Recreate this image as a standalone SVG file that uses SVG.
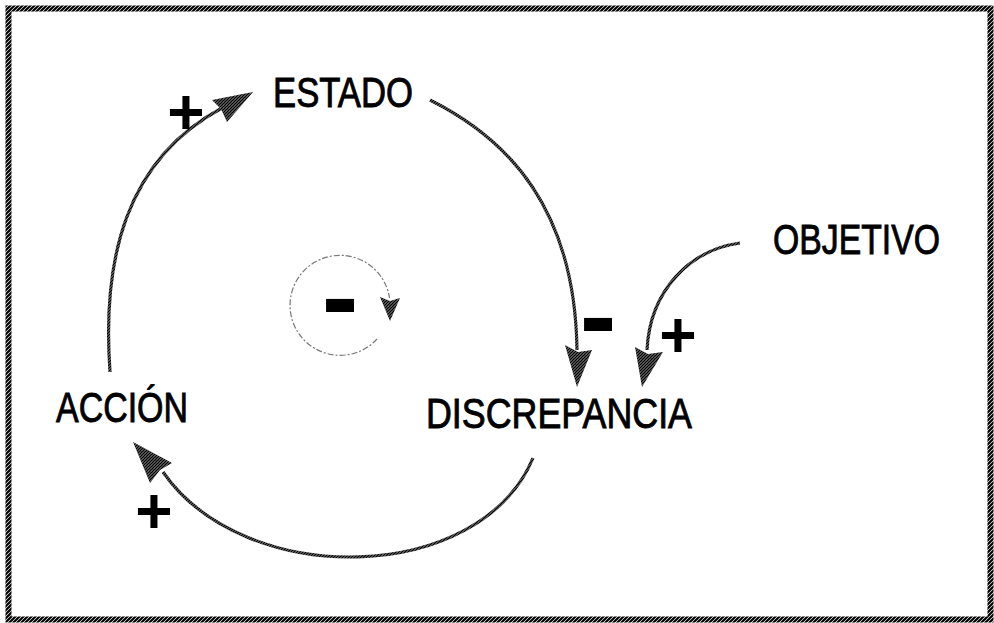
<svg xmlns="http://www.w3.org/2000/svg" width="994" height="623" viewBox="0 0 994 623">
<defs>
<pattern id="hatch" patternUnits="userSpaceOnUse" width="4" height="4">
<rect width="4" height="4" fill="#fff"/>
<path d="M-1,1 L1,-1 M0,4 L4,0 M3,5 L5,3" stroke="#000" stroke-width="2.2"/>
</pattern>
<pattern id="hatch2" patternUnits="userSpaceOnUse" width="3" height="3">
<rect width="3" height="3" fill="#fff"/>
<path d="M-1,1 L1,-1 M0,3 L3,0 M2,4 L4,2" stroke="#000" stroke-width="1.6"/>
</pattern>
</defs>
<style>
.lbl{font-family:"Liberation Sans",Arial,sans-serif;font-size:42px;fill:#000;stroke:#000;stroke-width:0.9px;}
.sign{font-family:"Liberation Sans",Arial,sans-serif;font-weight:bold;fill:#000;text-anchor:middle;}
.link{fill:none;stroke:url(#hatch2);stroke-width:3.2;}
.head{fill:url(#hatch2);stroke:none;}
</style>
<rect width="994" height="623" fill="#fff"/>
<rect x="8.5" y="8.5" width="982" height="611" fill="none" stroke="url(#hatch)" stroke-width="6"/>

<g id="connectors">
<path class="link" d="M110,372 C102,260 125,160 222,108"/>
<polygon class="head" points="253,92 212,100 221,109 227,122"/>
<path class="link" d="M430,100 C510,140 575,210 577,350"/>
<polygon class="head" points="577,387 565,345 578,352 592,350"/>
<path class="link" d="M740,243 C690,250 650,290 647,350"/>
<polygon class="head" points="642,387 635,347 648,354 663,352"/>
<path class="link" d="M533,458 C480,585 245,590 163,472"/>
<polygon class="head" points="133,442 172,463 160,470 150,483"/>
<path d="M377,339 A50,50 0 1 1 389.5,298" fill="none" stroke="#777" stroke-width="1.2" stroke-dasharray="6 2 2 2"/>
<polygon class="head" points="390,321 380,297 390,301 400,298"/>
</g>

<g id="node-estado"><text class="lbl" x="273" y="107" textLength="140" lengthAdjust="spacingAndGlyphs">ESTADO</text></g>
<g id="node-objetivo"><text class="lbl" x="773" y="254" textLength="167" lengthAdjust="spacingAndGlyphs">OBJETIVO</text></g>
<g id="node-discrepancia"><text class="lbl" x="426" y="428" textLength="266" lengthAdjust="spacingAndGlyphs">DISCREPANCIA</text></g>
<g id="node-accion"><text class="lbl" x="56" y="422" textLength="132" lengthAdjust="spacingAndGlyphs">ACCIÓN</text></g>

<g id="signs">
<text class="sign" x="186" y="134" font-size="64">+</text>
<text class="sign" x="678" y="357" font-size="64">+</text>
<text class="sign" x="154" y="533" font-size="64">+</text>
<text class="sign" x="340" y="334" font-size="110">-</text>
<text class="sign" x="598" y="353" font-size="110">-</text>
</g>
</svg>
